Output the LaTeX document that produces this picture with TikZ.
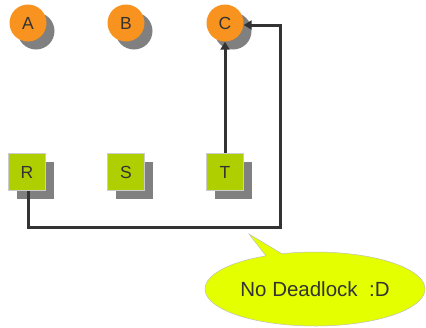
\documentclass[tikz,border=0pt]{standalone}
\usepackage{fontspec}
\setmainfont{Liberation Sans}
\usetikzlibrary{shapes.callouts,arrows.meta}
\definecolor{procorange}{HTML}{F7931E}
\definecolor{resgreen}{HTML}{B0CF00}
\definecolor{shade}{HTML}{808080}
\definecolor{edgeline}{HTML}{333333}
\definecolor{notefill}{HTML}{E4FF00}
\tikzset{
  x=1pt, y=-1pt,
  proc/.style={circle, fill=procorange, minimum size=37pt, inner sep=0pt,
    font=\fontsize{17.5}{17.5}\selectfont, text=edgeline},
  res/.style={rectangle, fill=resgreen, draw=white!80!black, line width=0.6pt,
    minimum size=37pt, inner sep=0pt, font=\fontsize{17.5}{17.5}\selectfont, text=edgeline},
  procshadow/.style={circle, fill=shade, minimum size=37pt, inner sep=0pt},
  resshadow/.style={rectangle, fill=shade, minimum size=37pt, inner sep=0pt},
  link/.style={draw=edgeline, line width=3pt},
  arrowlink/.style={link, -{Triangle[length=8pt,width=9pt]}},
}
\begin{document}
\begin{tikzpicture}
\useasboundingbox (0,0) rectangle (426,327);
% drop shadows
\foreach \cx in {28,126,225} \node[procshadow] at (\cx+8,23+8) {};
\foreach \cx in {27,126,225} \node[resshadow] at (\cx+8,172+8) {};
% processes
\node[proc] (A) at (28,23) {A};
\node[proc] (B) at (126,23) {B};
\node[proc] (C) at (225,23) {C};
% resources
\node[res] (R) at (27,172) {R};
\node[res] (S) at (126,172) {S};
\node[res] (T) at (225,172) {T};
% assignment edges
\draw[arrowlink] (T.north) -- (C.south);
\coordinate (bl) at (28,227);
\coordinate (br) at (280,227);
\coordinate (tr) at (280,25);
\draw[arrowlink, line join=miter] (R.south -| bl) -- (bl) -- (br) -- (tr) -- (C.east |- tr);
% note
\node[ellipse callout, fill=notefill, draw=white!75!black, line width=0.5pt,
  minimum width=220pt, minimum height=74pt, inner sep=0pt,
  callout absolute pointer={(249,234)}, callout pointer arc=9,
  font=\fontsize{20.5}{20.5}\selectfont, text=edgeline] (note) at (315,289) {No Deadlock\ \ :D};
\end{tikzpicture}
\end{document}
